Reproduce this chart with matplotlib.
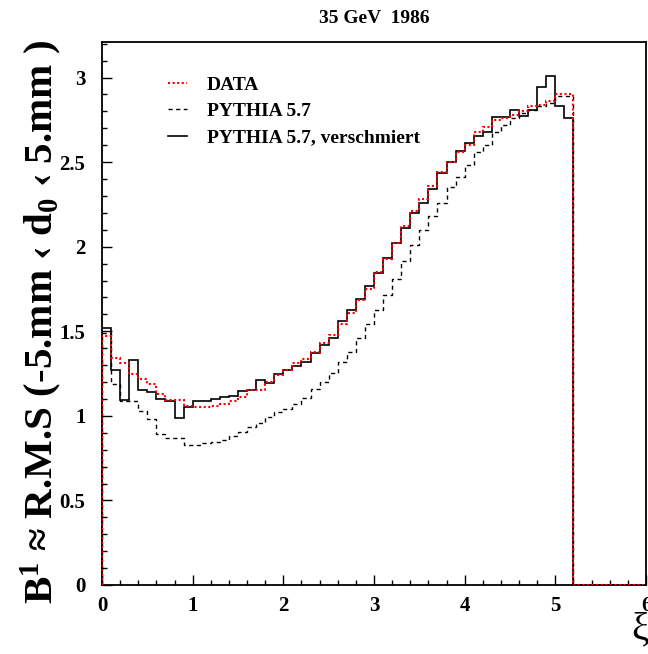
import numpy as np
import matplotlib
matplotlib.use("Agg")
import matplotlib.pyplot as plt

plt.rcParams['font.family'] = ['Liberation Serif', 'DejaVu Serif']
plt.rcParams['font.weight'] = 'bold'
plt.rcParams['mathtext.fontset'] = 'custom'
plt.rcParams['mathtext.rm'] = 'Liberation Serif:bold'
plt.rcParams['mathtext.bf'] = 'Liberation Serif:bold'
plt.rcParams['mathtext.it'] = 'Liberation Serif:bold'

# histogram binning: 60 bins of 0.1 from 0 to 6
edges = np.linspace(0, 6, 61)

# measured data (red dotted)
data = [1.47, 1.34, 1.31, 1.25, 1.22, 1.19, 1.13, 1.095, 1.095, 1.06,
        1.05, 1.05, 1.06, 1.07, 1.085, 1.11, 1.15, 1.155, 1.20, 1.24,
        1.27, 1.31, 1.335, 1.38, 1.43, 1.48, 1.54, 1.61, 1.685, 1.75,
        1.85, 1.93, 2.02, 2.12, 2.21, 2.28, 2.36, 2.44, 2.50, 2.56,
        2.60, 2.68, 2.71, 2.75, 2.76, 2.78, 2.80, 2.83, 2.84, 2.86,
        2.90, 2.90, 0, 0, 0, 0, 0, 0, 0, 0]

# PYTHIA 5.7 (dashed)
pythia = [1.49, 1.19, 1.09, 1.09, 1.03, 0.98, 0.89, 0.87, 0.87, 0.83,
          0.83, 0.84, 0.845, 0.86, 0.88, 0.905, 0.935, 0.96, 0.995, 1.025,
          1.04, 1.07, 1.105, 1.158, 1.20, 1.256, 1.318, 1.378, 1.46, 1.54,
          1.627, 1.716, 1.81, 1.915, 2.01, 2.10, 2.18, 2.26, 2.35, 2.41,
          2.48, 2.56, 2.60, 2.68, 2.72, 2.76, 2.79, 2.81, 2.83, 2.85,
          2.89, 2.89, 0, 0, 0, 0, 0, 0, 0, 0]

# PYTHIA 5.7, verschmiert (solid)
smeared = [1.52, 1.27, 1.093, 1.33, 1.15, 1.14, 1.10, 1.09, 0.99, 1.05,
           1.087, 1.09, 1.10, 1.11, 1.12, 1.148, 1.154, 1.21, 1.197, 1.25,
           1.27, 1.296, 1.32, 1.37, 1.418, 1.463, 1.56, 1.627, 1.69, 1.77,
           1.844, 1.933, 2.02, 2.11, 2.20, 2.26, 2.34, 2.436, 2.50, 2.568,
           2.61, 2.657, 2.68, 2.767, 2.767, 2.806, 2.77, 2.806, 2.945, 3.01,
           2.83, 2.76, 0, 0, 0, 0, 0, 0, 0, 0]

fig = plt.figure(figsize=(6.48, 6.54), dpi=100)
ax = fig.add_axes([102 / 648, 69 / 654, 544 / 648, 543 / 654])

ax.stairs(smeared, edges, baseline=0, color='black', lw=1.2,
          label='PYTHIA 5.7, verschmiert', zorder=2)
ax.stairs(pythia, edges, baseline=0, color='black', lw=1.0,
          linestyle=(0, (3, 2.5)), label='PYTHIA 5.7', zorder=2)
ax.stairs(data, edges, baseline=0, color='red', lw=1.5,
          linestyle=(0, (1, 1.2)), label='DATA', zorder=3)

ax.set_xlim(0, 6)
ax.set_ylim(0, 3.21)
ax.set_xticks(np.arange(0, 7, 1))
ax.set_xticks(np.arange(0, 6.01, 0.2), minor=True)
ax.set_yticks(np.arange(0, 3.01, 0.5))
ax.set_yticks(np.arange(0, 3.21, 0.1), minor=True)
ax.set_xticklabels(['0', '1', '2', '3', '4', '5', '6'])
ax.set_yticklabels(['0', '0.5', '1', '1.5', '2', '2.5', '3'])
ax.tick_params(which='both', direction='in', top=False, right=False,
               labelsize=15, width=1)
ax.tick_params(which='major', length=7)
ax.tick_params(which='minor', length=3.5)
ax.tick_params(axis='y', pad=12)
ax.tick_params(axis='x', pad=8)
for s in ax.spines.values():
    s.set_linewidth(1.3)

ax.set_title('35 GeV  1986', fontsize=14, fontweight='bold', pad=14)

fig.text(64 / 648, 1 - 322 / 654,
         'B$^{1}$ \u2248 R.M.S (-5.mm \u2039 d$_{0}$ \u2039 5.mm )',
         rotation=90, fontsize=29.5, ha='right', va='center', zorder=0)
fig.text(640 / 648, 1 - 630 / 654, '\u03be', fontsize=28, fontweight='normal',
         ha='center', va='center')

handles, labels = ax.get_legend_handles_labels()
order = [2, 1, 0]
ax.legend([handles[i] for i in order], [labels[i] for i in order],
          loc='upper left', bbox_to_anchor=(168 / 648, 1 - 76 / 654),
          bbox_transform=fig.transFigure, frameon=False, fontsize=14,
          handlelength=1.0, handletextpad=1.0, labelspacing=0.45,
          borderpad=0, borderaxespad=0)

fig.savefig('out.png', dpi=100)
